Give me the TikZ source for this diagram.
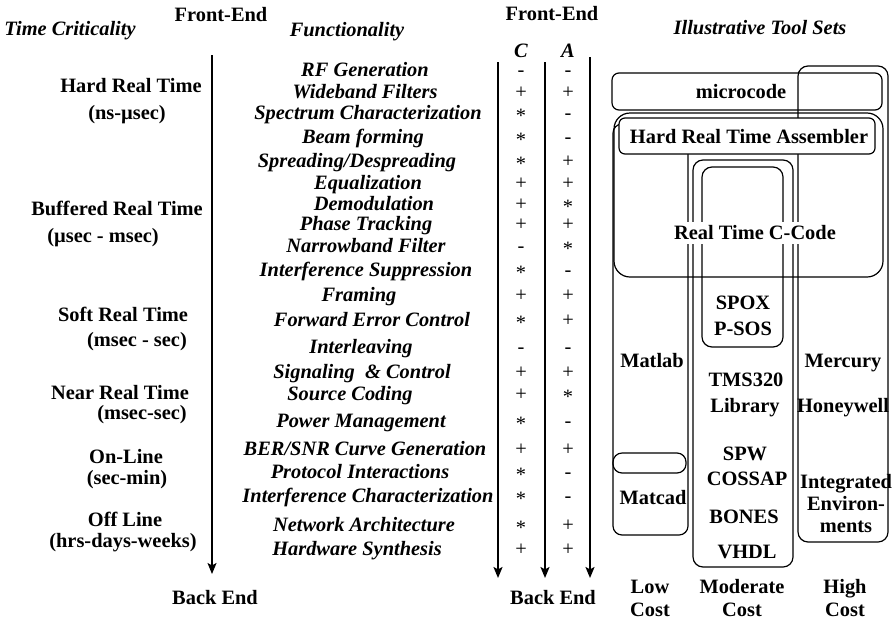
\documentclass[tikz,border=0pt]{standalone}
\usepackage{fontspec}
\setmainfont{Liberation Serif}
\usetikzlibrary{arrows.meta}

% symbols used in the C / A columns
\def\symbm{-}
\def\symbp{+}
\def\symbs{\raisebox{-.12em}{*}}
\newcommand\symb[1]{\csname symb#1\endcsname}

% one functionality row: id, y, x of label, label, C mark, A mark
\newcommand\frow[6]{%
  \node[func] (f#1) at (#3,#2) {#4};
  \node[sym] (c#1) at (521,#2) {\symb{#5}};
  \node[sym] (a#1) at (568,#2) {\symb{#6}};}

\begin{document}
\begin{tikzpicture}[x=0.5pt,y=-0.5pt,
  every node/.style={font=\fontsize{10.2}{12}\selectfont\bfseries,
                     inner sep=1pt, text height=0.66em, text depth=0pt},
  head/.style={font=\fontsize{10.2}{12}\selectfont\bfseries\itshape},
  func/.style={font=\fontsize{10.2}{12}\selectfont\bfseries\itshape},
  sym/.style={font=\fontsize{10.2}{12}\selectfont\mdseries, inner sep=0pt},
  box/.style={draw, line width=0.6pt, rounded corners=4.5pt},
  flow/.style={line width=0.9pt, -{Stealth[length=5.5pt,width=4.5pt,inset=1.2pt]}},
  flowthin/.style={line width=0.7pt, -{Stealth[length=5.5pt,width=4.5pt,inset=1.2pt]}},
]
\useasboundingbox (0,0) rectangle (892,621);

% ---------- headings ----------
\node[head] (tc)   at (70,29)  {Time Criticality};
\node       (lfe)  at (221,15) {Front-End};
\node[head] (fun)  at (347,30) {Functionality};
\node       (rfe)  at (552,14) {Front-End};
\node[head, inner sep=0pt] (ch) at (521,51) {C};
\node[head, inner sep=0pt] (ah) at (568,51) {A};
\node[head] (its)  at (760,28) {Illustrative Tool Sets};

% ---------- time criticality scale ----------
\node (l1)  at (131,86)  {Hard Real Time};
\node (l1s) at (127,113) {(ns-µsec)};
\node (l2)  at (117,209) {Buffered Real Time};
\node (l2s) at (103,236) {(µsec - msec)};
\node (l3)  at (123,315) {Soft Real Time};
\node (l3s) at (137,340) {(msec - sec)};
\node (l4)  at (120,393) {Near Real Time};
\node (l4s) at (142,413) {(msec-sec)};
\node (l5)  at (126,457) {On-Line};
\node (l5s) at (127,478) {(sec-min)};
\node (l6)  at (125,520) {Off Line};
\node (l6s) at (123,541) {(hrs-days-weeks)};
\node (lbe) at (215,598) {Back End};
\node (rbe) at (553,598) {Back End};

\coordinate (lt) at (212,55);
\coordinate (lb) at (212,574);
\draw[flowthin] (lt) -- (lb);

% ---------- functionality list with C / A marks ----------
\frow{1}{70}{365}{RF Generation}{m}{m}
\frow{2}{92}{365}{Wideband Filters}{p}{p}
\frow{3}{113}{368}{Spectrum Characterization}{s}{m}
\frow{4}{137}{363}{Beam forming}{s}{m}
\frow{5}{161}{357}{Spreading/Despreading}{s}{p}
\frow{6}{183}{368}{Equalization}{p}{p}
\frow{7}{204}{374}{Demodulation}{p}{s}
\frow{8}{224}{366}{Phase Tracking}{p}{p}
\frow{9}{246}{366}{Narrowband Filter}{m}{s}
\frow{10}{270}{366}{Interference Suppression}{s}{m}
\frow{11}{295}{359}{Framing}{p}{p}
\frow{12}{320}{372}{Forward Error Control}{s}{p}
\frow{13}{347}{361}{Interleaving}{m}{m}
\frow{14}{372}{362}{Signaling \ \& Control}{p}{p}
\frow{15}{394}{350}{Source Coding}{p}{s}
\frow{16}{421}{361}{Power Management}{s}{m}
\frow{17}{449}{365}{BER/SNR Curve Generation}{p}{p}
\frow{18}{472}{360}{Protocol Interactions}{s}{m}
\frow{19}{496}{368}{Interference Characterization}{s}{m}
\frow{20}{525}{364}{Network Architecture}{s}{p}
\frow{21}{549}{357}{Hardware Synthesis}{p}{p}

\coordinate (ct) at (498,62);  \coordinate (cb) at (498,578);
\coordinate (at) at (545,62);  \coordinate (ab) at (545,578);
\coordinate (rt) at (590,57);  \coordinate (rb) at (590,578);
\draw[flow] (ct) -- (cb);
\draw[flow] (at) -- (ab);
\draw[flow] (rt) -- (rb);

% ---------- tool set regions ----------
\draw[box, rounded corners=3.5pt] (612,73) rectangle (882,110);   % microcode
\draw[box, rounded corners=8pt]   (614,113) rectangle (883,277);  % real time C-code
\draw[box, rounded corners=5pt]   (798,66) rectangle (888,542);   % high cost
\draw[box] (613,124) rectangle (688,535);                          % low cost
\draw[box, rounded corners=5pt]   (693,160) rectangle (793,567);  % moderate cost
\draw[box, rounded corners=5pt]   (702,167) rectangle (783,347);  % SPOX / P-SOS
\draw[box, rounded corners=4.5pt] (613,453) rectangle (686,473);  % Matcad
\draw[box, rounded corners=3pt, fill=white] (619,118) rectangle (875,154); % assembler

\node (mc)   at (741,92)  {microcode};
\node (hrta) at (749,137) {Hard Real Time Assembler};
\node[fill=white, inner sep=2pt] (rtc) at (755,233) {Real Time C-Code};
\node (spox) at (743,303) {SPOX};
\node (psos) at (743,329) {P-SOS};
\node (mtl)  at (652,361) {Matlab};
\node (mer)  at (843,361) {Mercury};
\node (tms)  at (746,380) {TMS320};
\node (lib)  at (745,406) {Library};
\node (hon)  at (843,406) {Honeywell};
\node (spw)  at (745,454) {SPW};
\node (cos)  at (747,479) {COSSAP};
\node (int)  at (846,482) {Integrated};
\node (mcd)  at (653,498) {Matcad};
\node (env)  at (846,504) {Environ-};
\node (bon)  at (744,517) {BONES};
\node (men)  at (846,526) {ments};
\node (vhd)  at (747,552) {VHDL};

\node (low)  at (650,587) {Low};
\node (lowc) at (650,610) {Cost};
\node (mod)  at (742,587) {Moderate};
\node (modc) at (742,610) {Cost};
\node (hi)   at (845,587) {High};
\node (hic)  at (845,610) {Cost};
\end{tikzpicture}
\end{document}
